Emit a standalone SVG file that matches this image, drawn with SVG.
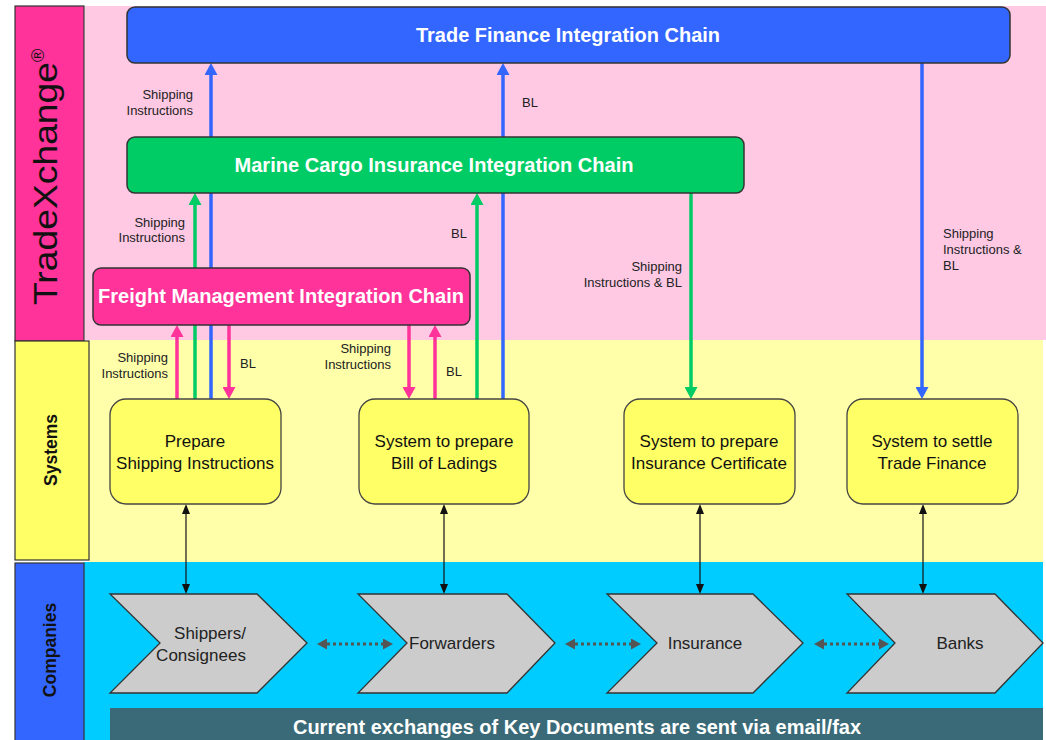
<svg xmlns="http://www.w3.org/2000/svg" width="1046" height="740" viewBox="0 0 1046 740">
<style>
.lbl{font-family:"Liberation Sans",Arial,sans-serif;font-size:13px;fill:#222}
.side{font-family:"Liberation Sans",Arial,sans-serif;font-weight:bold;font-size:17.5px;fill:#111}
.chain{font-family:"Liberation Sans",Arial,sans-serif;font-weight:bold;font-size:20px;fill:#fff}
.sys{fill:#FFFF66;stroke:#444;stroke-width:1.3}
.systxt{font-family:"Liberation Sans",Arial,sans-serif;font-size:17px;fill:#111}
.chev{fill:#CCCCCC;stroke:#333;stroke-width:1.3}
.chevtxt{font-family:"Liberation Sans",Arial,sans-serif;font-size:17px;fill:#222}
.box{stroke:#333;stroke-width:1.5}
.blue{stroke:#3366FF;stroke-width:3.5;fill:none}
.green{stroke:#00CC66;stroke-width:3.5;fill:none}
.mag{stroke:#FF3399;stroke-width:3.5;fill:none}
.blk{stroke:#111;stroke-width:1.2;fill:none}
.dot{stroke:#555;stroke-width:3;stroke-dasharray:3 3;fill:none}
</style>
<defs>
<marker id="mBlue" markerUnits="userSpaceOnUse" viewBox="0 0 12 13" markerWidth="12" markerHeight="13" refX="0" refY="6.5" orient="auto"><path d="M0,0 L12,6.5 L0,13 z" fill="#3366FF"/></marker>
<marker id="mGreen" markerUnits="userSpaceOnUse" viewBox="0 0 12 13" markerWidth="12" markerHeight="13" refX="0" refY="6.5" orient="auto"><path d="M0,0 L12,6.5 L0,13 z" fill="#00CC66"/></marker>
<marker id="mMag" markerUnits="userSpaceOnUse" viewBox="0 0 12 13" markerWidth="12" markerHeight="13" refX="0" refY="6.5" orient="auto"><path d="M0,0 L12,6.5 L0,13 z" fill="#FF3399"/></marker>
<marker id="mBlk" markerUnits="userSpaceOnUse" viewBox="0 0 10 8" markerWidth="10" markerHeight="8" refX="0" refY="4" orient="auto-start-reverse"><path d="M0,0 L10,4 L0,8 z" fill="#111"/></marker>
<marker id="mGray" markerUnits="userSpaceOnUse" viewBox="0 0 10 11" markerWidth="10" markerHeight="11" refX="0" refY="5.5" orient="auto-start-reverse"><path d="M0,0 L10,5.5 L0,11 z" fill="#555"/></marker>
</defs>

<g id="bands">
<rect x="85" y="6" width="961" height="334" fill="#FFC9E4"/>
<rect x="89" y="340" width="954" height="222" fill="#FFFFAA"/>
<rect x="84" y="562" width="959" height="178" fill="#00CCFF"/>
</g>

<g id="lane-tradexchange">
<rect x="15" y="6" width="69" height="335" fill="#FF3399" stroke="#333" stroke-width="1.2"/>
<text transform="translate(57,305) rotate(-90)" font-family="Liberation Sans,Arial,sans-serif" font-size="34" fill="#111" textLength="243" lengthAdjust="spacingAndGlyphs">TradeXchange</text>
<text transform="translate(44,62) rotate(-90)" font-family="Liberation Sans,Arial,sans-serif" font-size="18" fill="#111">®</text>
</g>
<g id="lane-systems">
<rect x="15" y="341" width="74" height="219" fill="#FFFF66" stroke="#333" stroke-width="1.2"/>
<text class="side" transform="translate(57,450) rotate(-90)" text-anchor="middle">Systems</text>
</g>
<g id="lane-companies">
<rect x="15" y="563" width="69" height="180" fill="#3366FF" stroke="#333" stroke-width="1.2"/>
<text class="side" transform="translate(56,650) rotate(-90)" text-anchor="middle">Companies</text>
</g>

<g id="connectors">
<line class="blue" x1="211" y1="399" x2="211" y2="75" marker-end="url(#mBlue)"/>
<line class="blue" x1="503" y1="399" x2="503" y2="75" marker-end="url(#mBlue)"/>
<line class="blue" x1="922" y1="63" x2="922" y2="387" marker-end="url(#mBlue)"/>
<line class="green" x1="195" y1="399" x2="195" y2="205" marker-end="url(#mGreen)"/>
<line class="green" x1="477" y1="399" x2="477" y2="205" marker-end="url(#mGreen)"/>
<line class="green" x1="691" y1="193" x2="691" y2="387" marker-end="url(#mGreen)"/>
<line class="mag" x1="177" y1="399" x2="177" y2="337" marker-end="url(#mMag)"/>
<line class="mag" x1="229" y1="325" x2="229" y2="387" marker-end="url(#mMag)"/>
<line class="mag" x1="409" y1="325" x2="409" y2="387" marker-end="url(#mMag)"/>
<line class="mag" x1="435" y1="399" x2="435" y2="337" marker-end="url(#mMag)"/>
<line class="blk" x1="186" y1="514" x2="186" y2="584" marker-start="url(#mBlk)" marker-end="url(#mBlk)"/>
<line class="blk" x1="444" y1="514" x2="444" y2="584" marker-start="url(#mBlk)" marker-end="url(#mBlk)"/>
<line class="blk" x1="700" y1="514" x2="700" y2="584" marker-start="url(#mBlk)" marker-end="url(#mBlk)"/>
<line class="blk" x1="923" y1="514" x2="923" y2="584" marker-start="url(#mBlk)" marker-end="url(#mBlk)"/>
<line class="dot" x1="327" y1="644" x2="383" y2="644" marker-start="url(#mGray)" marker-end="url(#mGray)"/>
<line class="dot" x1="575" y1="644" x2="631" y2="644" marker-start="url(#mGray)" marker-end="url(#mGray)"/>
<line class="dot" x1="824" y1="644" x2="879" y2="644" marker-start="url(#mGray)" marker-end="url(#mGray)"/>
<text class="lbl" text-anchor="end" x="193" y="99">Shipping</text>
<text class="lbl" text-anchor="end" x="193" y="115">Instructions</text>
<text class="lbl" x="522" y="107">BL</text>
<text class="lbl" text-anchor="end" x="185" y="227">Shipping</text>
<text class="lbl" text-anchor="end" x="185" y="242">Instructions</text>
<text class="lbl" x="451" y="238">BL</text>
<text class="lbl" text-anchor="end" x="168" y="362">Shipping</text>
<text class="lbl" text-anchor="end" x="168" y="378">Instructions</text>
<text class="lbl" x="240" y="368" font-size="14">BL</text>
<text class="lbl" text-anchor="end" x="391" y="353">Shipping</text>
<text class="lbl" text-anchor="end" x="391" y="369">Instructions</text>
<text class="lbl" x="446" y="376" font-size="14">BL</text>
<text class="lbl" text-anchor="end" x="682" y="271">Shipping</text>
<text class="lbl" text-anchor="end" x="682" y="287">Instructions &amp; BL</text>
<text class="lbl" x="943" y="238">Shipping</text>
<text class="lbl" x="943" y="254">Instructions &amp;</text>
<text class="lbl" x="943" y="270">BL</text>
</g>

<g id="trade-finance-chain">
<rect class="box" x="127" y="7" width="883" height="56" rx="8" fill="#3366FF"/>
<text class="chain" x="568" y="42" text-anchor="middle" textLength="304" lengthAdjust="spacingAndGlyphs">Trade Finance Integration Chain</text>
</g>
<g id="marine-cargo-chain">
<rect class="box" x="127" y="137" width="617" height="56" rx="8" fill="#00CC66"/>
<text class="chain" x="434" y="172" text-anchor="middle" textLength="399" lengthAdjust="spacingAndGlyphs">Marine Cargo Insurance Integration Chain</text>
</g>
<g id="freight-chain">
<rect class="box" x="93" y="268" width="377" height="57" rx="8" fill="#FF3399"/>
<text class="chain" x="281" y="303" text-anchor="middle" textLength="366" lengthAdjust="spacingAndGlyphs">Freight Management Integration Chain</text>
</g>

<g id="sys-shipping">
<rect class="sys" x="110" y="399" width="171" height="105" rx="16"/>
<text class="systxt" x="195" y="447" text-anchor="middle">Prepare</text>
<text class="systxt" x="195" y="469" text-anchor="middle">Shipping Instructions</text>
</g>
<g id="sys-bl">
<rect class="sys" x="359" y="399" width="170" height="105" rx="16"/>
<text class="systxt" x="444" y="447" text-anchor="middle">System to prepare</text>
<text class="systxt" x="444" y="469" text-anchor="middle">Bill of Ladings</text>
</g>
<g id="sys-insurance">
<rect class="sys" x="624" y="399" width="171" height="105" rx="16"/>
<text class="systxt" x="709" y="447" text-anchor="middle">System to prepare</text>
<text class="systxt" x="709" y="469" text-anchor="middle">Insurance Certificate</text>
</g>
<g id="sys-finance">
<rect class="sys" x="847" y="399" width="171" height="105" rx="16"/>
<text class="systxt" x="932" y="447" text-anchor="middle">System to settle</text>
<text class="systxt" x="932" y="469" text-anchor="middle">Trade Finance</text>
</g>

<g id="co-shippers">
<path class="chev" d="M110,594 L257,594 L307,643 L257,693 L110,693 L160,643 z"/>
<text class="chevtxt" x="210" y="639" text-anchor="middle">Shippers/</text>
<text class="chevtxt" x="201" y="661" text-anchor="middle">Consignees</text>
</g>
<g id="co-forwarders">
<path class="chev" d="M358,594 L507,594 L555,643 L507,693 L358,693 L407,643 z"/>
<text class="chevtxt" x="452" y="649" text-anchor="middle">Forwarders</text>
</g>
<g id="co-insurance">
<path class="chev" d="M607,594 L753,594 L803,643 L753,693 L607,693 L657,643 z"/>
<text class="chevtxt" x="705" y="649" text-anchor="middle">Insurance</text>
</g>
<g id="co-banks">
<path class="chev" d="M847,594 L995,594 L1043,643 L995,693 L847,693 L895,643 z"/>
<text class="chevtxt" x="960" y="649" text-anchor="middle">Banks</text>
</g>

<g id="banner">
<rect x="110" y="708" width="933" height="32" fill="#3A6A77"/>
<text class="chain" x="577" y="734" text-anchor="middle" textLength="568" lengthAdjust="spacingAndGlyphs">Current exchanges of Key Documents are sent via email/fax</text>
</g>
</svg>
